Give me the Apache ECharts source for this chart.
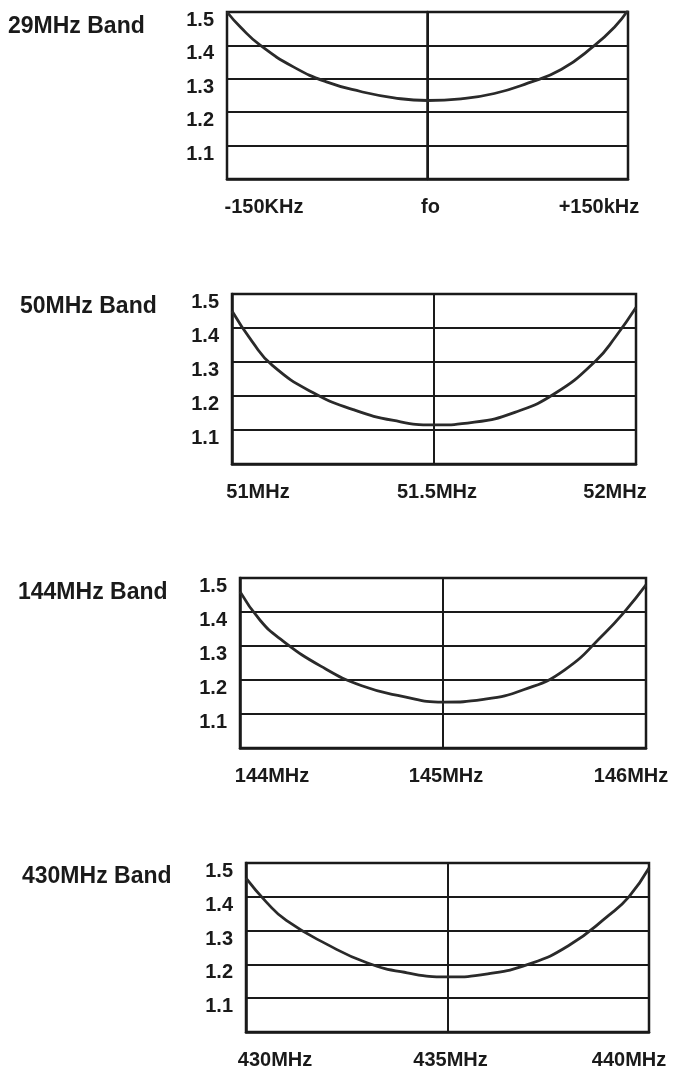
<!DOCTYPE html>
<html>
<head>
<meta charset="utf-8">
<script src="https://cdn.jsdelivr.net/npm/echarts@6/dist/echarts.min.js"></script>
<style>
html,body{margin:0;padding:0;background:#fff;}
#chart{width:677px;height:1070px;}
</style>
</head>
<body>
<div id="chart"></div>
<script>
// ---- data ----
const bandTitles = ['29MHz Band', '50MHz Band', '144MHz Band', '430MHz Band'];
const yTickLabels = ['1.1', '1.2', '1.3', '1.4', '1.5'];

const band29Ticks = ['-150KHz', 'fo', '+150kHz'];
const band29X = [-150, -140, -125, -100, -75, -50, -25, 0, 25, 50, 75, 100, 125, 140, 150];
const band29Y = [1.50, 1.455, 1.40, 1.335, 1.29, 1.262, 1.243, 1.235, 1.240, 1.256, 1.287, 1.328, 1.40, 1.455, 1.505];

const band50Ticks = ['51MHz', '51.5MHz', '52MHz'];
const band50X = [51.0, 51.05, 51.1, 51.2, 51.3, 51.4, 51.5, 51.6, 51.7, 51.8, 51.9, 51.95, 52.0];
const band50Y = [1.45, 1.36, 1.29, 1.21, 1.16, 1.128, 1.115, 1.123, 1.152, 1.208, 1.303, 1.375, 1.46];

const band144Ticks = ['144MHz', '145MHz', '146MHz'];
const band144X = [144.0, 144.1, 144.2, 144.4, 144.6, 144.8, 145.0, 145.2, 145.4, 145.6, 145.8, 145.9, 146.0];
const band144Y = [1.46, 1.375, 1.32, 1.24, 1.183, 1.152, 1.135, 1.143, 1.172, 1.23, 1.34, 1.405, 1.48];

const band430Ticks = ['430MHz', '435MHz', '440MHz'];
const band430X = [430, 430.5, 431, 432, 433, 434, 435, 436, 437, 438, 439, 439.5, 440];
const band430Y = [1.455, 1.385, 1.33, 1.26, 1.205, 1.175, 1.163, 1.172, 1.20, 1.255, 1.345, 1.40, 1.485];

// ---- layout ----
const panels = [
  { ticks: band29Ticks, xs: band29X, ys: band29Y, min: -150, max: 150, interval: 150,
    grid: { left: 227, top: 12, width: 401, height: 167 }, title: { left: 8, top: 15 }, padL: 74, padR: 58 },
  { ticks: band50Ticks, xs: band50X, ys: band50Y, min: 51, max: 52, interval: 0.5,
    grid: { left: 232, top: 294, width: 404, height: 170 }, title: { left: 20, top: 295 }, padL: 52, padR: 42 },
  { ticks: band144Ticks, xs: band144X, ys: band144Y, min: 144, max: 146, interval: 1,
    grid: { left: 240, top: 578, width: 406, height: 170 }, title: { left: 18, top: 581 }, padL: 64, padR: 30 },
  { ticks: band430Ticks, xs: band430X, ys: band430Y, min: 430, max: 440, interval: 5,
    grid: { left: 246, top: 863, width: 403, height: 170 }, title: { left: 22, top: 865 }, padL: 58, padR: 40 }
];

const FONT = '"Liberation Sans", Arial, Helvetica, sans-serif';
const INK = '#1a1a1a';

const option = {
  backgroundColor: '#fff',
  animation: false,
  title: panels.map((p, i) => ({
    text: bandTitles[i],
    left: p.title.left, top: p.title.top,
    padding: 0,
    textStyle: { fontFamily: FONT, fontWeight: 'bold', fontSize: 23, color: INK }
  })),
  grid: panels.map(p => ({
    left: p.grid.left, top: p.grid.top, width: p.grid.width, height: p.grid.height,
    show: true, borderColor: INK, borderWidth: 2.5, backgroundColor: 'transparent', containLabel: false
  })),
  xAxis: panels.map((p, i) => ({
    type: 'value', gridIndex: i, min: p.min, max: p.max, interval: p.interval,
    axisLine: { show: true, lineStyle: { color: INK, width: 2.5 } },
    axisTick: { show: false },
    splitLine: { show: true, lineStyle: { color: INK, width: 2 } },
    axisLabel: {
      margin: 18,
      alignMinLabel: 'center', alignMaxLabel: 'center',
      fontFamily: FONT, fontWeight: 'bold', fontSize: 20, color: INK,
      formatter: function (v) {
        const eps = p.interval / 1000;
        if (Math.abs(v - p.min) < eps) return '{l|' + p.ticks[0] + '}';
        if (Math.abs(v - (p.min + p.interval)) < eps && Math.abs(v - p.max) > eps) return '{c|' + p.ticks[1] + '}';
        if (Math.abs(v - p.max) < eps) return '{r|' + p.ticks[2] + '}';
        return '';
      },
      rich: {
        l: { fontFamily: FONT, fontWeight: 'bold', fontSize: 20, color: INK, padding: [0, 0, 0, p.padL] },
        c: { fontFamily: FONT, fontWeight: 'bold', fontSize: 20, color: INK, padding: [0, 0, 0, 6] },
        r: { fontFamily: FONT, fontWeight: 'bold', fontSize: 20, color: INK, padding: [0, p.padR, 0, 0] }
      }
    }
  })),
  yAxis: panels.map((p, i) => ({
    type: 'value', gridIndex: i, min: 1.0, max: 1.5, interval: 0.1,
    axisLine: { show: true, lineStyle: { color: INK, width: 2.5 } },
    axisTick: { show: false },
    splitLine: { show: true, lineStyle: { color: INK, width: 2 } },
    axisLabel: {
      margin: 13,
      fontFamily: FONT, fontWeight: 'bold', fontSize: 20, color: INK,
      formatter: function (v) {
        const idx = Math.round((v - 1.0) * 10) - 1;
        return idx >= 0 && idx < yTickLabels.length ? '{d|' + yTickLabels[idx] + '}' : '';
      },
      rich: {
        d: { fontFamily: FONT, fontWeight: 'bold', fontSize: 20, color: INK, padding: [17, 0, 0, 0] }
      }
    }
  })),
  series: panels.map((p, i) => ({
    type: 'line', xAxisIndex: i, yAxisIndex: i,
    data: p.xs.map((x, k) => [x, p.ys[k]]),
    smooth: 0.5, showSymbol: false, symbol: 'none',
    lineStyle: { color: '#2a2a2a', width: 2.8 },
    clip: true
  }))
};

const chart = echarts.init(document.getElementById('chart'), null, { renderer: 'canvas' });
chart.setOption(option);
</script>
</body>
</html>
